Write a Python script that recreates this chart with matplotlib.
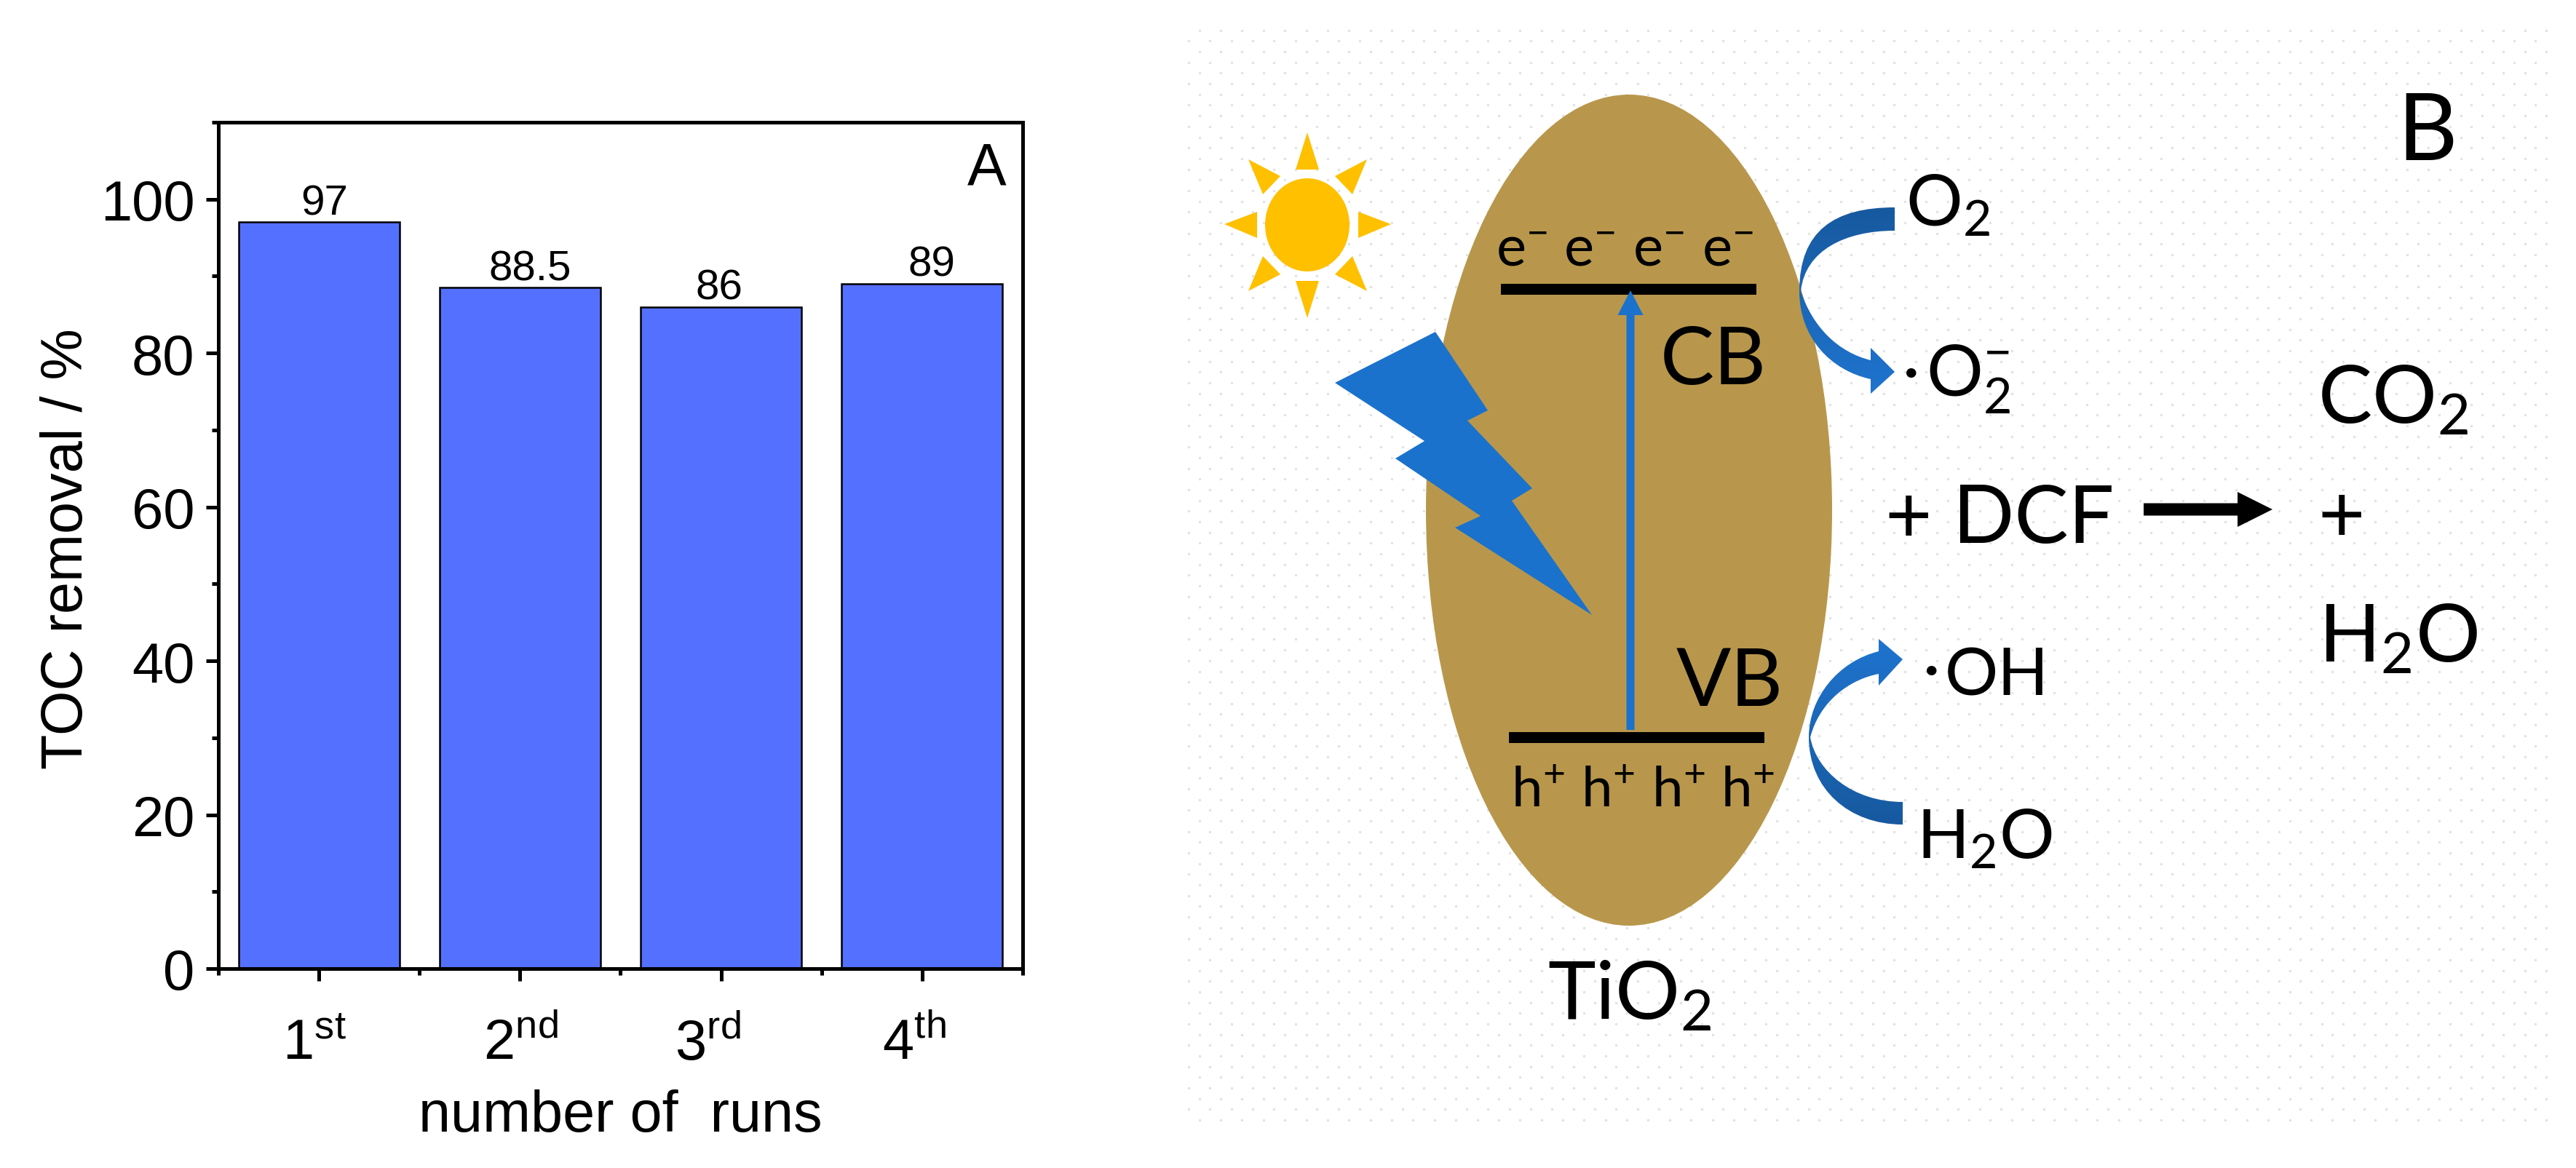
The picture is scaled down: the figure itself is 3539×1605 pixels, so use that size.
import numpy as np
import matplotlib
matplotlib.use("Agg")
import matplotlib.pyplot as plt
from matplotlib.colors import LinearSegmentedColormap
from matplotlib.patches import Ellipse, Polygon, PathPatch, FancyArrow
from matplotlib.path import Path
from matplotlib.ticker import MultipleLocator
from matplotlib.transforms import ScaledTranslation

# panel A values
runs = [1, 2, 3, 4]
run_labels = ["1$^{st}$", "2$^{nd}$", "3$^{rd}$", "4$^{th}$"]
toc_removal = [97, 88.5, 86, 89]
toc_labels = ["97", "88.5", "86", "89"]

W, H = 3539, 1606
DPI = 100
BAR_BLUE = "#5470FF"
BROWN = "#B8974C"
SUN = "#FFC000"
BLUE = "#1A72CC"

plt.rcParams["font.family"] = "Liberation Sans"
plt.rcParams["mathtext.default"] = "regular"

fig = plt.figure(figsize=(W / DPI, H / DPI), dpi=DPI, facecolor="white")

# ---- panel B: schematic, drawn in image pixels ----
sch = fig.add_axes([0, 0, 1, 1], zorder=0)
sch.set_xlim(0, W)
sch.set_ylim(H, 0)
sch.axis("off")

# dotted background
for k in range(0, 103):
    y = 42.7 + 14.68 * k
    x0, x1 = (1647.7, 3499) if k % 2 == 0 else (1633, 3484)
    xs = np.arange(x0, x1, 29.37)
    sch.scatter(xs, np.full_like(xs, y), s=6.5, color="#E2E2E2", linewidths=0, zorder=1)

sch.add_patch(Ellipse((2238, 702), 558, 1142, facecolor=BROWN, edgecolor="none", zorder=2))

# sun
sch.add_patch(Ellipse((1796, 310), 116, 128, facecolor=SUN, edgecolor="none", zorder=2))
rays = [
    [(1796, 183), (1780, 234), (1812, 234)],
    [(1796, 438), (1780, 387), (1812, 387)],
    [(1682, 309), (1727, 292), (1727, 328)],
    [(1911, 309), (1866, 292), (1866, 328)],
    [(1715, 220), (1759, 243), (1735, 268)],
    [(1878, 220), (1834, 243), (1858, 268)],
    [(1715, 401), (1759, 378), (1735, 353)],
    [(1878, 401), (1834, 378), (1858, 353)],
]
for r in rays:
    sch.add_patch(Polygon(r, closed=True, facecolor=SUN, edgecolor="none", zorder=2))

# lightning bolt
bolt = [(1972, 457), (1834, 527), (1957, 607), (1917, 631), (2034, 710), (1999, 726),
        (2187, 846), (2077, 689), (2105, 672), (2016, 579), (2044, 565)]
sch.add_patch(Polygon(bolt, closed=True, facecolor=BLUE, edgecolor="none", zorder=3))

# band lines and excitation arrow
sch.add_patch(plt.Rectangle((2062, 391), 351, 15, facecolor="black", edgecolor="none", zorder=3))
sch.add_patch(plt.Rectangle((2073, 1007), 351, 15, facecolor="black", edgecolor="none", zorder=3))
sch.add_patch(FancyArrow(2240, 1004, 0, -604, width=11, head_width=35, head_length=34,
                         length_includes_head=True, facecolor=BLUE, edgecolor="none", zorder=4))

# black reaction arrow
sch.add_patch(FancyArrow(2945, 701, 177, 0, width=17, head_width=48, head_length=48,
                         length_includes_head=True, facecolor="black", edgecolor="none", zorder=4))


def curved_arrow(segments, dark_top):
    verts, codes = [segments[0]], [Path.MOVETO]
    for s in segments[1:]:
        if len(s) == 3:
            verts += list(s)
            codes += [Path.CURVE4] * 3
        else:
            verts.append(s)
            codes.append(Path.LINETO)
    verts.append(segments[0])
    codes.append(Path.CLOSEPOLY)
    path = Path(verts, codes)
    patch = PathPatch(path, facecolor="none", edgecolor="none", transform=sch.transData)
    sch.add_patch(patch)
    vs = np.array(verts)
    grad = np.linspace(0, 1, 256).reshape(-1, 1)
    if not dark_top:
        grad = grad[::-1]
    cmap = LinearSegmentedColormap.from_list("blues", ["#17599F", "#1F74CF"])
    im = sch.imshow(grad, cmap=cmap, aspect="auto", zorder=4, origin="upper",
                    extent=(vs[:, 0].min(), vs[:, 0].max(), vs[:, 1].max(), vs[:, 1].min()))
    im.set_clip_path(patch)


curved_arrow([
    (2603, 286),
    ((2520, 286), (2472, 318), (2472, 401)),
    ((2472, 465), (2515, 510), (2570, 522)),
    (2570, 542), (2603, 512), (2570, 479), (2570, 496),
    ((2525, 485), (2490, 450), (2474, 401)),
    ((2480, 345), (2535, 318), (2603, 318)),
], True)
curved_arrow([
    (2614, 1134),
    ((2540, 1134), (2485, 1085), (2485, 1014)),
    ((2485, 960), (2525, 910), (2581, 896)),
    (2581, 879), (2614, 907), (2581, 943), (2581, 927),
    ((2540, 935), (2500, 965), (2487, 1014)),
    ((2495, 1060), (2545, 1103), (2614, 1103)),
], False)
sch.set_xlim(0, W)
sch.set_ylim(H, 0)


def put(x, y, s, size, ha="left"):
    sch.text(x, y, s, fontsize=size, family="Lato", ha=ha, va="baseline", color="black", zorder=5)


BIG = 80
put(3293, 220, "B", 92)
put(2281, 528, "CB", BIG)
put(2303, 970, "VB", BIG)
put(2126, 1400, "TiO$_2$", BIG)
put(2618, 310, "O$_2$", BIG - 10)
put(2626, 539, "·", 65, ha="center")
put(2646, 545, "O$_2^{-}$", BIG - 10)
put(2590, 746, "+ DCF", BIG)
put(3184, 581, "CO$_2$", BIG)
put(3184, 745, "+", BIG)
put(3185, 909, "H$_2$O", BIG)
put(2654, 948, "·", 65, ha="center")
put(2672, 956, "OH", BIG - 14)
put(2633, 1180, "H$_2$O", BIG - 12)

# carriers on the bands
for x in [2055, 2148, 2243, 2338]:
    put(x, 366, "e$^{-}$", 56)
for x in [2076, 2172, 2269, 2364]:
    put(x, 1109, "h$^{+}$", 55)

# ---- panel A: bar chart ----
ax = fig.add_axes([300 / W, 1 - 1332 / H, 1105 / W, 1163 / H], zorder=1)
ax.bar(runs, toc_removal, width=0.8, color=BAR_BLUE, edgecolor="black", linewidth=1.8)
ax.set_xlim(0.5, 4.5)
ax.set_ylim(0, 110)

ax.set_xticks(runs)
ax.set_xticklabels(run_labels)
ax.set_yticks(range(0, 101, 20))
ax.yaxis.set_minor_locator(MultipleLocator(10))
ax.xaxis.set_minor_locator(MultipleLocator(1, offset=0.5))
ax.tick_params(which="major", direction="out", length=12.5, width=3.6, labelsize=56, pad=11)
ax.tick_params(which="minor", direction="out", length=6.5, width=3.6)
ax.tick_params(axis="x", which="major", pad=36)
for sp in ax.spines.values():
    sp.set_linewidth(3.6)

# the run labels are not quite centred under their bars
for lab, dx in zip(ax.get_xticklabels(), [-6, 1, -18, -11]):
    lab.set_transform(lab.get_transform() + ScaledTranslation(dx / DPI, 0, fig.dpi_scale_trans))

ax.set_xlabel("number of  runs", fontsize=57, va="baseline")
ax.xaxis.set_label_coords(0.5, -0.192)
ax.set_ylabel("TOC removal / %", fontsize=57, va="baseline")
ax.yaxis.set_label_coords(-0.169, 0.497)

label_shift = [8, 14, -3, 13]
for x, v, s, dx in zip(runs, toc_removal, toc_labels, label_shift):
    ax.annotate(s, (x, v), xytext=(dx * 72 / DPI, 8), textcoords="offset points",
                ha="center", va="baseline", fontsize=42)

ax.text(0.98, 0.945, "A", transform=ax.transAxes, ha="right", va="center", fontsize=58)

fig.savefig("out.png", dpi=DPI)
